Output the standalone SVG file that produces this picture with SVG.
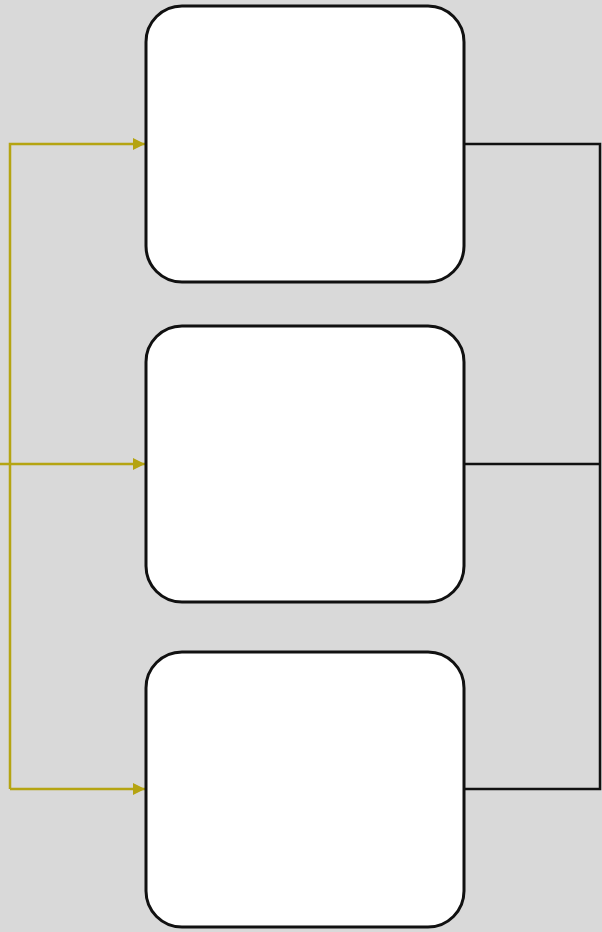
<svg xmlns="http://www.w3.org/2000/svg" width="602" height="932" viewBox="0 0 602 932">
<style>
.box{fill:#fff;stroke:#111;stroke-width:3}
.y{fill:none;stroke:#b5a412;stroke-width:2.5}
.k{fill:none;stroke:#111;stroke-width:2.5}
</style>
<defs>
<marker id="ah" viewBox="0 0 10 10" refX="10" refY="5" markerWidth="5" markerHeight="5" markerUnits="strokeWidth" orient="auto">
<path d="M0,0 L10,5 L0,10 z" fill="#b5a412"/>
</marker>
</defs>
<rect width="602" height="932" fill="#d9d9d9"/>
<g id="connectors">
<path class="y" d="M10,789 V144 H145" marker-end="url(#ah)"/>
<path class="y" d="M0,464 H145" marker-end="url(#ah)"/>
<path class="y" d="M10,789 H145" marker-end="url(#ah)"/>
<path class="k" d="M464,144 H600 V789 H464"/>
<path class="k" d="M464,464 H600"/>
</g>
<g id="node1"><rect class="box" x="146" y="6" width="318" height="276" rx="36"/></g>
<g id="node2"><rect class="box" x="146" y="326" width="318" height="276" rx="36"/></g>
<g id="node3"><rect class="box" x="146" y="652" width="318" height="275" rx="36"/></g>
</svg>
